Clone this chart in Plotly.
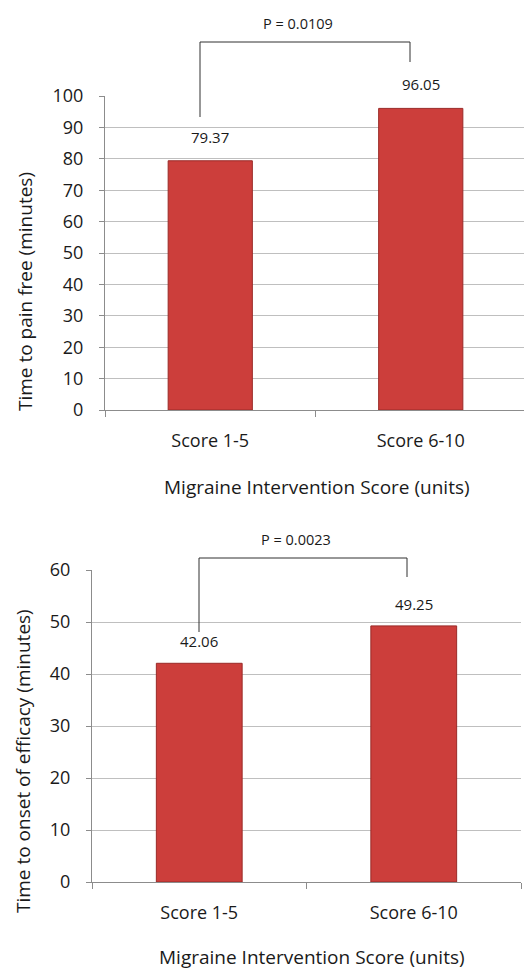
import plotly.graph_objects as go

# ---- data ----
categories = ["Score 1-5", "Score 6-10"]
pain_free_values = [79.37, 96.05]
onset_values = [42.06, 49.25]
p_value_1 = "P = 0.0109"
p_value_2 = "P = 0.0023"
y_title_1 = "Time to pain free (minutes)"
y_title_2 = "Time to onset of efficacy (minutes)"
x_title = "Migraine Intervention Score (units)"
y_ticks_1 = list(range(0, 101, 10))
y_ticks_2 = list(range(0, 61, 10))

# page has an 8px body margin: figure is offset by (8, 8) on screen
OFF = 8
W, H = 524, 962
FONT = "Open Sans"
BAR_COLOR = "#CC3E3B"
BAR_LINE = "#9A2A28"
GRID = "#BFBFBF"
AXIS = "#8C8C8C"
TEXT = "#1A1A1A"

fig = go.Figure()
fig.add_trace(go.Bar(x=categories, y=pain_free_values, xaxis="x", yaxis="y",
                     marker=dict(color=BAR_COLOR, line=dict(color=BAR_LINE, width=1)),
                     width=0.4, showlegend=False, hoverinfo="skip"))
fig.add_trace(go.Bar(x=categories, y=onset_values, xaxis="x2", yaxis="y2",
                     marker=dict(color=BAR_COLOR, line=dict(color=BAR_LINE, width=1)),
                     width=0.4, showlegend=False, hoverinfo="skip"))

def px(x):
    return (x - OFF) / W

def py(y):
    return 1 - (y - OFF) / H

def xd(x0, x1):
    return [px(x0), min(px(x1), 1.0)]

def yd(top, bottom):
    return [py(bottom), py(top)]

common_x = dict(type="category", showline=True, linecolor=AXIS, linewidth=1,
                ticks="outside", tickson="boundaries", ticklen=6, tickcolor=AXIS,
                showgrid=False, tickfont=dict(family=FONT, size=18, color=TEXT),
                ticklabelstandoff=14, range=[-0.5, 1.5], fixedrange=True,
                automargin=False)
common_y = dict(showline=True, linecolor=AXIS, linewidth=1, ticks="outside",
                ticklen=5, tickcolor=AXIS, showgrid=True, gridcolor=GRID,
                gridwidth=1, zeroline=False,
                tickfont=dict(family=FONT, size=18, color=TEXT),
                ticklabelstandoff=12, fixedrange=True, automargin=False)

fig.update_layout(
    width=W, height=H,
    margin=dict(l=0, r=0, t=0, b=0, pad=0, autoexpand=False),
    paper_bgcolor="white", plot_bgcolor="white",
    font=dict(family=FONT, color=TEXT),
    xaxis=dict(domain=xd(105, 526), anchor="y", **common_x),
    yaxis=dict(domain=yd(96, 410), anchor="x", range=[0, 100],
               tickvals=y_ticks_1, **common_y),
    xaxis2=dict(domain=xd(92, 521), anchor="y2", **common_x),
    yaxis2=dict(domain=yd(570, 882), anchor="x2", range=[0, 60],
                tickvals=y_ticks_2, **common_y),
)

def label(x, y, text, size, angle=0):
    return dict(x=px(x), y=py(y), xref="paper", yref="paper", text=text,
                textangle=angle, showarrow=False, xanchor="center", yanchor="middle",
                font=dict(family=FONT, size=size, color=TEXT))

anns = []
for xr, yr, vals, shift in [("x", "y", pain_free_values, 12), ("x2", "y2", onset_values, 10)]:
    for c, v in zip(categories, vals):
        anns.append(dict(x=c, y=v, xref=xr, yref=yr, text=f"{v:.2f}", showarrow=False,
                         xanchor="center", yanchor="bottom", yshift=shift,
                         font=dict(family=FONT, size=15, color=TEXT)))

anns.append(label(298, 23, p_value_1, 14.5))
anns.append(label(296, 539, p_value_2, 14.5))
anns.append(label(25, 292, y_title_1, 19, -90))
anns.append(label(23, 761, y_title_2, 19, -90))
anns.append(label(317, 487, x_title, 19))
anns.append(label(312, 957, x_title, 19))
fig.update_layout(annotations=anns)

def px_line(x0, y0, x1, y1):
    return dict(type="line", xref="paper", yref="paper",
                x0=px(x0), x1=px(x1), y0=py(y0), y1=py(y1),
                line=dict(color="#303030", width=1))

shapes = [
    px_line(200, 42, 410, 42), px_line(200, 42, 200, 117), px_line(410, 42, 410, 62),
    px_line(199, 558, 407, 558), px_line(199, 558, 199, 632), px_line(407, 558, 407, 577),
]
fig.update_layout(shapes=shapes)

fig.write_html("out.html")
